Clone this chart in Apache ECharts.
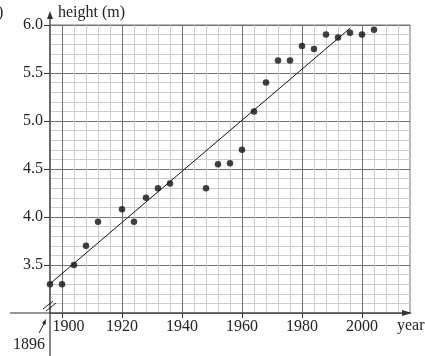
<!DOCTYPE html>
<html><head><meta charset="utf-8">
<script src="https://cdn.jsdelivr.net/npm/echarts@6/dist/echarts.min.js"></script>
<style>html,body{margin:0;padding:0;background:#fff}#c{width:425px;height:356px}</style>
</head><body><div id="c"></div>
<script>
// Olympic years and winning heights (m)
const years = [1896,1900,1904,1908,1912,1920,1924,1928,1932,1936,1948,1952,1956,1960,1964,1968,1972,1976,1980,1984,1988,1992,1996,2000,2004];
const heights = [3.30,3.30,3.50,3.70,3.95,4.08,3.95,4.20,4.30,4.35,4.30,4.55,4.56,4.70,5.10,5.40,5.63,5.63,5.78,5.75,5.90,5.87,5.92,5.90,5.95];
// line of best fit end points [year, height]
const fitYears = [1893.2, 1996];
const fitHeights = [3.23, 5.966];
const xTickLabels = [1900,1920,1940,1960,1980,2000];
const yTickLabels = [3.5,4.0,4.5,5.0,5.5,6.0];
const xRange = [1896, 2016];
const yRange = [3.0, 6.0];

const FONT = '"Liberation Serif", "Times New Roman", serif';
const MAJOR = '#707070', MINOR = '#cccccc', AXIS = '#333333', TXT = '#222222';

const chart = echarts.init(document.getElementById('c'), null, {renderer:'canvas'});
chart.setOption({
  backgroundColor:'#fff',
  animation:false,
  grid:{left:50, right:15, top:25, bottom:43, show:true, borderColor:MAJOR, borderWidth:1, backgroundColor:'transparent'},
  xAxis:[
    {type:'value', min:xRange[0], max:xRange[1], interval:4,
     axisLine:{show:false}, axisTick:{show:false}, axisLabel:{show:false},
     splitLine:{show:true, showMaxLine:false, lineStyle:{color:[MINOR,MAJOR,MINOR,MINOR,MINOR], width:1}}},
    {type:'value', position:'bottom', min:xRange[0], max:xRange[1],
     axisLine:{show:false}, splitLine:{show:false},
     axisTick:{show:true, length:5, lineStyle:{color:AXIS}, customValues:xTickLabels},
     axisLabel:{show:true, customValues:xTickLabels, margin:6, fontFamily:FONT, fontSize:16, color:TXT,
       formatter:v=> v === xTickLabels[0] ? '{first|' + v + '}' : String(v),
       rich:{first:{fontFamily:FONT, fontSize:16, color:TXT, padding:[0,0,0,13]}}}}
  ],
  yAxis:[
    {type:'value', min:yRange[0], max:yRange[1], interval:0.1,
     axisLine:{show:false}, axisTick:{show:false}, axisLabel:{show:false},
     splitLine:{show:true, lineStyle:{color:[MAJOR,MINOR,MINOR,MINOR,MINOR], width:1}}},
    {type:'value', position:'left', min:yRange[0], max:yRange[1],
     axisLine:{show:false}, splitLine:{show:false},
     axisTick:{show:true, length:6, lineStyle:{color:AXIS}, customValues:yTickLabels},
     axisLabel:{show:true, customValues:yTickLabels, margin:7, fontFamily:FONT, fontSize:16, color:TXT,
       formatter:v=>Number(v).toFixed(1)}}
  ],
  series:[
    {type:'line', xAxisIndex:0, yAxisIndex:0, clip:false, symbol:'none', silent:true,
     data: fitYears.map((y,i)=>[y, fitHeights[i]]), lineStyle:{color:'#111', width:1}, z:3},
    {type:'scatter', xAxisIndex:0, yAxisIndex:0, symbolSize:6.5,
     data: years.map((y,i)=>[y, heights[i]]), itemStyle:{color:'#111'}, z:4}
  ]
});

const o = chart.convertToPixel({gridIndex:0}, [xRange[0], yRange[0]]);
const t = chart.convertToPixel({gridIndex:0}, [xRange[1], yRange[1]]);
const H = 356;
function txt(s, x, y, align){
  return {type:'text', x:x, y:y, z:10, style:{text:s, font:'16px ' + FONT, fill:TXT,
    align:align||'left', verticalAlign:'middle', textAlign:align||'left', textVerticalAlign:'middle'}};
}
chart.setOption({graphic:[
  {type:'line', z:5, shape:{x1:o[0], y1:H, x2:o[0], y2:t[1]-9}, style:{stroke:AXIS, lineWidth:1.2}},
  {type:'polygon', z:5, shape:{points:[[o[0], t[1]-14],[o[0]-3, t[1]-6],[o[0]+3, t[1]-6]]}, style:{fill:AXIS}},
  {type:'line', z:5, shape:{x1:10, y1:o[1], x2:t[0], y2:o[1]}, style:{stroke:AXIS, lineWidth:1.2}},
  {type:'polygon', z:5, shape:{points:[[t[0]+2, o[1]],[t[0]-8, o[1]-3],[t[0]-8, o[1]+3]]}, style:{fill:AXIS}},
  {type:'line', z:5, shape:{x1:o[0]-7, y1:o[1]-4, x2:o[0]+3, y2:o[1]-12}, style:{stroke:'#222', lineWidth:1}},
  {type:'line', z:5, shape:{x1:o[0]-4, y1:o[1]-2, x2:o[0]+6, y2:o[1]-10}, style:{stroke:'#222', lineWidth:1}},
  {type:'line', z:5, shape:{x1:o[0]-11, y1:o[1]+20, x2:o[0]-5, y2:o[1]+9}, style:{stroke:'#222', lineWidth:1}},
  {type:'polygon', z:5, shape:{points:[[o[0]-4, o[1]+6],[o[0]-8, o[1]+10],[o[0]-4.5, o[1]+12]]}, style:{fill:'#222'}},
  txt('1896', 13, 345),
  txt('year', 397, 326),
  txt(')', -2, 13),
  txt('height (m)', 58, 13)
]});
</script></body></html>
